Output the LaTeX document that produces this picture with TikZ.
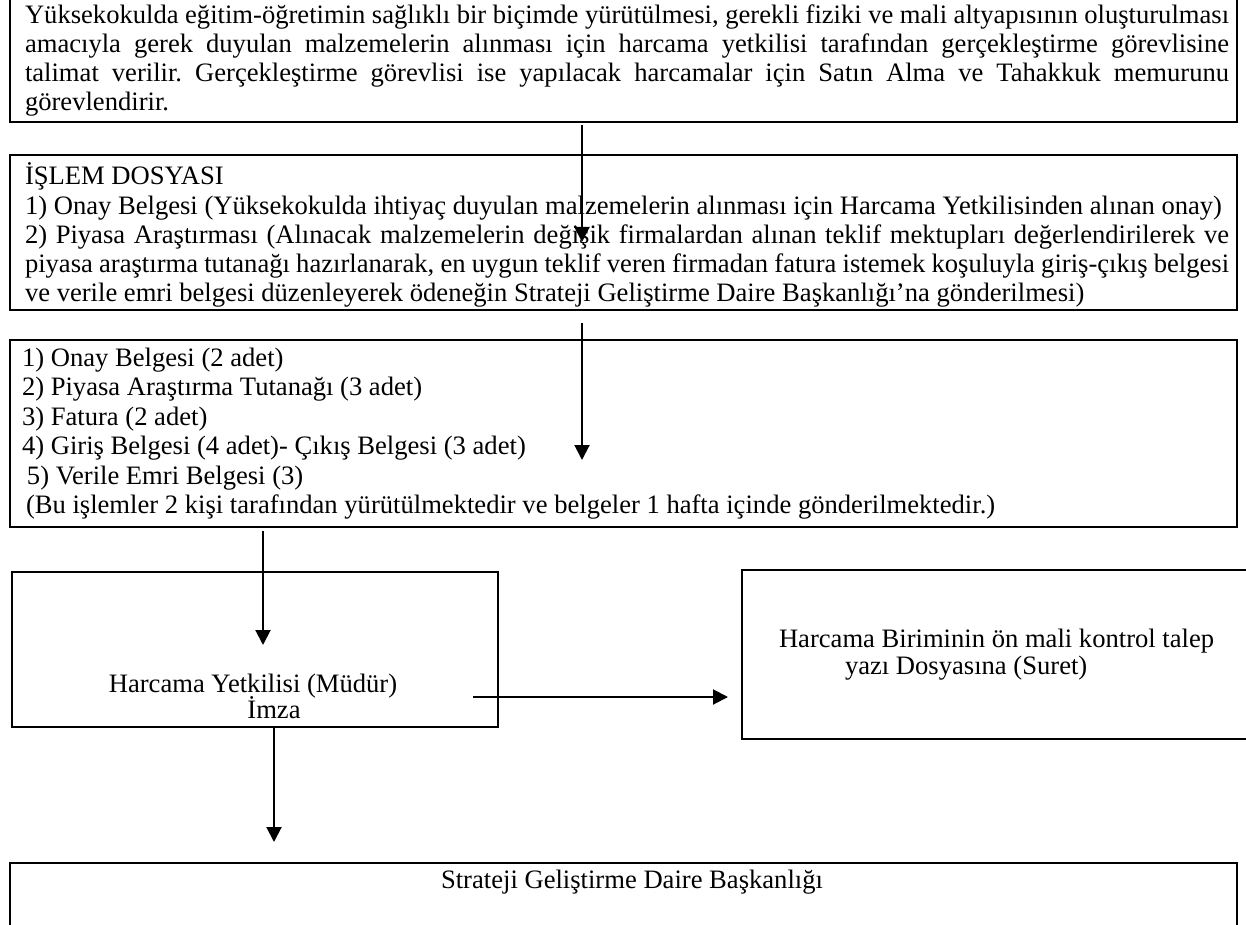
\documentclass[tikz,border=0pt]{standalone}
\usepackage{fontspec}
\setmainfont{Liberation Serif}
\frenchspacing
\usetikzlibrary{arrows.meta}
\begin{document}
\begin{tikzpicture}[x=1pt,y=-1pt,
  box/.style={draw, line width=2.3pt, inner sep=0pt, outer sep=0pt, anchor=north west},
  txt/.style={inner sep=0pt, outer sep=0pt, anchor=north west, align=left, font=\fontsize{26.6}{29}\selectfont},
  txtb/.style={inner sep=0pt, outer sep=0pt, anchor=north west, align=left, font=\fontsize{26.6}{29.5}\selectfont},
  lbl/.style={inner sep=0pt, outer sep=0pt, font=\fontsize{26.6}{29}\selectfont},
  arr/.style={line width=2pt, -{Triangle[length=15pt,width=15pt]}}]
\useasboundingbox (0,0) rectangle (1246,925);
\fill[white] (0,0) rectangle (1246,925);
\clip (0,0) rectangle (1246,925);

% boxes
\node[box, minimum width=1227pt, minimum height=132pt] (b1) at (10,-10) {};
\node[box, minimum width=1227pt, minimum height=155pt] (b2) at (10,155) {};
\node[box, minimum width=1227pt, minimum height=187pt] (b3) at (10,340) {};
\node[box, minimum width=486pt, minimum height=155pt] (b4) at (12,572) {};
\node[box, minimum width=530pt, minimum height=169pt] (b5) at (742,570) {};
\node[box, minimum width=1227pt, minimum height=90pt] (b6) at (10,863) {};

% texts (first-line strut: 24pt above the first baseline)
\node[txt] (t1) at (25,0) {\rule{0pt}{24pt}\makebox[1204pt][s]{Yüksekokulda eğitim-öğretimin sağlıklı bir biçimde yürütülmesi, gerekli fiziki ve mali altyapısının oluşturulması}\\
\makebox[1204pt][s]{amacıyla gerek duyulan malzemelerin alınması için harcama yetkilisi tarafından gerçekleştirme görevlisine}\\
\makebox[1204pt][s]{talimat verilir. Gerçekleştirme görevlisi ise yapılacak harcamalar için Satın Alma ve Tahakkuk memurunu}\\
görevlendirir.};

\node[txt] (t2) at (25,161) {\rule{0pt}{24pt}İŞLEM DOSYASI\\
1) Onay Belgesi (Yüksekokulda ihtiyaç duyulan malzemelerin alınması için Harcama Yetkilisinden alınan onay)\\
\makebox[1204pt][s]{2) Piyasa Araştırması (Alınacak malzemelerin değişik firmalardan alınan teklif mektupları değerlendirilerek ve}\\
\makebox[1204pt][s]{piyasa araştırma tutanağı hazırlanarak, en uygun teklif veren firmadan fatura istemek koşuluyla giriş-çıkış belgesi}\\
ve verile emri belgesi düzenleyerek ödeneğin Strateji Geliştirme Daire Başkanlığı’na gönderilmesi)};

\node[txtb] (t3) at (22,342) {\rule{0pt}{24pt}1) Onay Belgesi (2 adet)\\
2) Piyasa Araştırma Tutanağı (3 adet)\\
3) Fatura (2 adet)\\
4) Giriş Belgesi (4 adet)- Çıkış Belgesi (3 adet)\\
\hspace*{5pt}5) Verile Emri Belgesi (3)\\
\hspace*{4pt}(Bu işlemler 2 kişi tarafından yürütülmektedir ve belgeler 1 hafta içinde gönderilmektedir.)};

\node[lbl, anchor=base] (t4a) at (253,692) {Harcama Yetkilisi (Müdür)};
\node[lbl, anchor=base] (t4b) at (274,718) {İmza};
\node[lbl, anchor=base west] (t5a) at (779,647) {Harcama Biriminin ön mali kontrol talep};
\node[lbl, anchor=base west] (t5b) at (845,674) {yazı Dosyasına (Suret)};
\node[lbl, anchor=base] (t6) at (632,888) {Strateji Geliştirme Daire Başkanlığı};

% connectors
\coordinate (a1s) at (582,125);
\coordinate (a1e) at (582,242);
\coordinate (a2s) at (582,323);
\coordinate (a2e) at (582,460);
\coordinate (a3s) at (263,531);
\coordinate (a3e) at (263,645);
\coordinate (a4s) at (274,727);
\coordinate (a4e) at (274,842);
\coordinate (a5s) at (473,697);
\coordinate (a5e) at (728,697);
\draw[arr] (a1s) -- (a1e);
\draw[arr] (a2s) -- (a2e);
\draw[arr] (a3s) -- (a3e);
\draw[arr] (a4s) -- (a4e);
\draw[arr] (a5s) -- (a5e);
\end{tikzpicture}
\end{document}
